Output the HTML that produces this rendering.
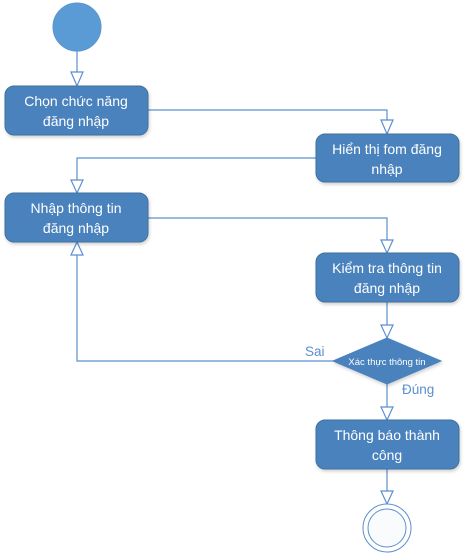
<!DOCTYPE html>
<html><head><meta charset="utf-8"><style>
html,body{margin:0;padding:0;background:#fff;}
svg{display:block;}
text{font-family:"Liberation Sans","Noto Sans CJK SC",sans-serif;}
</style></head><body>
<svg width="465" height="554" viewBox="0 0 465 554" xmlns="http://www.w3.org/2000/svg">
<defs>
<filter id="sh" x="-10%" y="-10%" width="130%" height="140%"><feDropShadow dx="1" dy="2" stdDeviation="1.5" flood-color="#000" flood-opacity="0.18"/></filter>
</defs>
<g fill="none" stroke="#5b8fcf" stroke-width="1.2">
<line x1="77" y1="51" x2="77" y2="72"/>
<polyline points="148,110 387,110 387,120"/>
<polyline points="316,158 77,158 77,180"/>
<polyline points="148,218 387,218 387,240"/>
<line x1="387" y1="302" x2="387" y2="325"/>
<polyline points="333,361 77,361 77,255"/>
<line x1="387" y1="384" x2="387" y2="407"/>
<line x1="387" y1="469" x2="387" y2="491"/>
</g>
<g fill="#fff" stroke="#5b8fcf" stroke-width="1.2">
<polygon points="71,72 83,72 77,86"/>
<polygon points="381,120 393,120 387,134"/>
<polygon points="71,180 83,180 77,193"/>
<polygon points="381,240 393,240 387,253"/>
<polygon points="381,325 393,325 387,338"/>
<polygon points="71,255 83,255 77,242"/>
<polygon points="381,407 393,407 387,420"/>
<polygon points="381,491 393,491 387,504"/>
</g>
<circle cx="77" cy="27" r="24" fill="#5b9bd5" stroke="#5a95cf" stroke-width="1"/>
<g fill="#4a82bd" stroke="#41719c" stroke-width="1" filter="url(#sh)">
<rect x="5" y="86" width="143" height="49" rx="9"/>
<rect x="316" y="134" width="143" height="48" rx="9"/>
<rect x="5" y="193" width="143" height="49" rx="9"/>
<rect x="316" y="253" width="143" height="49" rx="9"/>
<rect x="316" y="420" width="143" height="49" rx="9"/>
</g>
<polygon points="333,361 387,338 441,361 387,384" fill="#4a82bd" stroke="#4a82bd" filter="url(#sh)"/>
<g fill="#fff" font-size="14" text-anchor="middle">
<text x="76" y="106">Chọn chức năng</text>
<text x="76" y="126">đăng nhập</text>
<text x="387" y="154">Hiển thị fom đăng</text>
<text x="387" y="174">nhập</text>
<text x="76" y="213">Nhập thông tin</text>
<text x="76" y="233">đăng nhập</text>
<text x="387" y="273">Kiểm tra thông tin</text>
<text x="387" y="293">đăng nhập</text>
<text x="387" y="440">Thông báo thành</text>
<text x="387" y="460">công</text>
<text x="387" y="365" font-size="9.5">Xác thực thông tin</text>
</g>
<text x="305" y="356" font-size="13.5" fill="#5b8fcf">Sai</text>
<text x="402" y="394" font-size="13.5" fill="#5b8fcf">Đúng</text>
<circle cx="387" cy="528" r="24" fill="#fff" stroke="#5b8fcf" stroke-width="1"/>
<circle cx="387" cy="528" r="19" fill="#fafbfd" stroke="#5b8fcf" stroke-width="1"/>
</svg>
</body></html>
